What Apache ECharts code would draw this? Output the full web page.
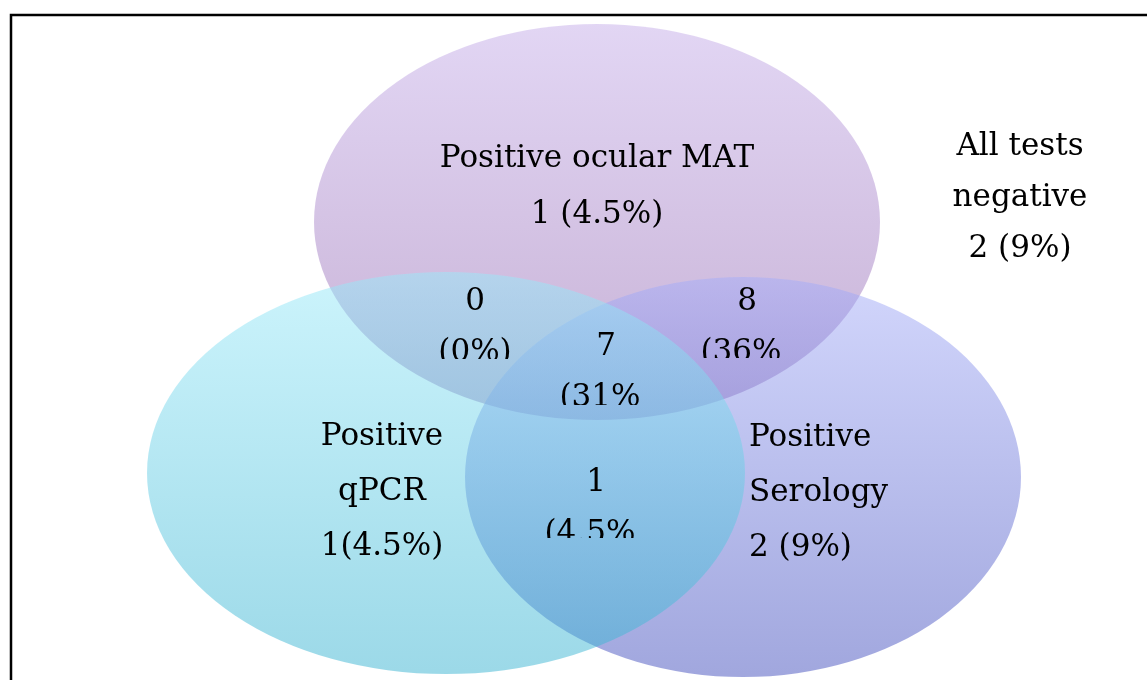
<!DOCTYPE html>
<html style="height: 100%">
<head>
    <meta charset="utf-8">
    <title>Venn</title>
</head>
<body style="height: 100%; margin: 0">
    <div id="container" style="width: 1147px; height: 680px"></div>
    <script type="text/javascript" src="https://cdn.jsdelivr.net/npm/echarts@6/dist/echarts.min.js"></script>
    <script type="text/javascript">
        // regions: MAT only, qPCR only, Serology only, MAT+qPCR, MAT+Serology, all three, qPCR+Serology, none
        var regionNames  = ['Positive ocular MAT', 'Positive\nqPCR', 'Positive\nSerology', '', '', '', '', 'All tests\nnegative'];
        var regionCounts = [1, 1, 2, 0, 8, 7, 1, 2];
        var regionPct    = ['4.5%', '4.5%', '9%', '0%', '36%', '31%', '4.5%', '9%'];
        var countSep     = [' ', '', ' ', '\n', '\n', '\n', '\n', ' '];

        // ellipse layout in axis units: cx, cy, rx, ry (drawn MAT, Serology, qPCR)
        var setEllipses = [
            [597, 222, 283, 198],
            [743, 477, 278, 200],
            [446, 473, 299, 201]
        ];
        var setColors = [
            ['rgba(197,173,233,0.5)', 'rgba(143,99,171,0.5)'],
            ['rgba(165,173,249,0.5)', 'rgba(67,79,189,0.5)'],
            ['rgba(153,233,249,0.5)', 'rgba(57,179,209,0.5)']
        ];

        // label layout: x, y (block centre), align, lineHeight, clip right, clip bottom
        var labelLayout = [
            [597, 187, 'center', 56, null, null],
            [382, 492, 'center', 55, null, null],
            [749, 493, 'left',   55, null, null],
            [475, 327, 'center', 51, null, 359],
            [747, 327, 'center', 51, 782, 358],
            [606, 372, 'center', 51, 641, 405],
            [596, 508, 'center', 51, 636, 538],
            [1020, 198, 'center', 51, null, null]
        ];

        var dom     = document.getElementById('container');
        var myChart = echarts.init(dom);

        var labelData = regionCounts.map(function (c, i) {
            return [labelLayout[i][0], labelLayout[i][1], i];
        });

        function renderSet(params, api) {
            var c = api.coord([api.value(0), api.value(1)]);
            var s = api.size([api.value(2), api.value(3)]);
            var col = setColors[params.dataIndex];
            return {
                type: 'circle',
                x: c[0],
                y: c[1],
                scaleY: s[1] / s[0],
                shape: {cx: 0, cy: 0, r: s[0]},
                style: {
                    fill: new echarts.graphic.LinearGradient(0, 0, 0, 1, [
                        {offset: 0, color: col[0]},
                        {offset: 1, color: col[1]}
                    ])
                }
            };
        }

        function renderLabel(params, api) {
            var i   = api.value(2);
            var lay = labelLayout[i];
            var c   = api.coord([api.value(0), api.value(1)]);
            var txt = (regionNames[i] ? regionNames[i] + '\n' : '') +
                      regionCounts[i] + countSep[i] + '(' + regionPct[i] + ')';
            var el = {
                type: 'text',
                x: c[0],
                y: c[1],
                style: {
                    text: txt,
                    fontFamily: 'DejaVu Serif',
                    fontSize: 31,
                    lineHeight: lay[3],
                    fill: '#000',
                    align: lay[2],
                    verticalAlign: 'middle'
                }
            };
            if (lay[4] != null || lay[5] != null) {
                var right  = lay[4] != null ? lay[4] : c[0] + 200;
                var bottom = lay[5] != null ? lay[5] : c[1] + 200;
                el.clipPath = {
                    type: 'rect',
                    shape: {
                        x: -200,
                        y: -200,
                        width: right - c[0] + 200,
                        height: bottom - c[1] + 200
                    }
                };
            }
            return el;
        }

        var option = {
            animation: false,
            grid: {left: 0, right: 0, top: 0, bottom: 0},
            xAxis: {type: 'value', min: 0, max: 1147, show: false},
            yAxis: {type: 'value', min: 0, max: 680, inverse: true, show: false},
            graphic: [{
                type: 'polyline',
                shape: {points: [[11, 680], [11, 15], [1147, 15]]},
                style: {stroke: '#000', lineWidth: 2.5, fill: null}
            }],
            series: [{
                type: 'custom',
                renderItem: renderSet,
                data: setEllipses,
                silent: true
            }, {
                type: 'custom',
                renderItem: renderLabel,
                data: labelData,
                silent: true,
                z: 5
            }]
        };

        myChart.setOption(option);
    </script>
</body>
</html>
